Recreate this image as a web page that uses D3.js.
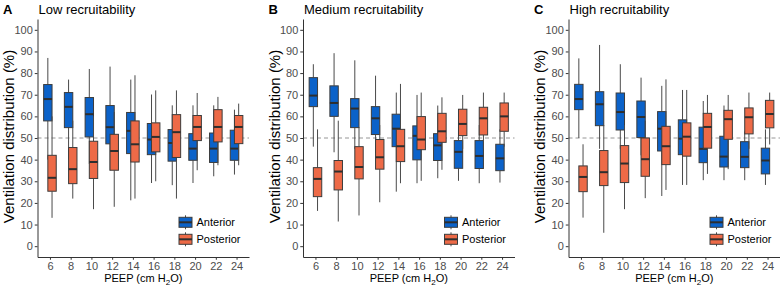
<!DOCTYPE html>
<html>
<head>
<meta charset="utf-8">
<script src="https://cdn.jsdelivr.net/npm/d3@7"></script>
<style>
  body { margin: 0; background: #fff; }
  svg { display: block; font-family: "Liberation Sans", Arial, sans-serif; }
</style>
</head>
<body>
<svg id="chart" width="780" height="288"></svg>
<script>
// PEEP levels and y ticks
const peep = [6, 8, 10, 12, 14, 16, 18, 20, 22, 24];
const yTicks = [0, 10, 20, 30, 40, 50, 60, 70, 80, 90, 100];
const seriesNames = ['Anterior', 'Posterior'];
const panelLetters = ['A', 'B', 'C'];
const panelTitles = ['Low recruitability', 'Medium recruitability', 'High recruitability'];

// each entry: [lower whisker, q1, median, q3, upper whisker]
const lowAnterior = [[40,57.9,68,74.7,87],[40,54.8,64.4,71,77],[38,50.5,61,68.7,81.9],[35,47.3,55,65,83],[21.2,42.8,53.3,61.8,77],
  [29.2,42.3,49.3,56.7,70.1],[28.2,39.3,47.7,53.9,65.1],[29.2,39.7,45.1,52,65.1],[32.3,38.7,45.1,52.3,65.1],[33.1,39.7,45.1,53.6,63.1]];
const lowPosterior = [[13.1,25.4,31.6,42,60],[22,28.9,35.6,45.6,58],[17.1,31.3,38.9,48.5,60],[18.2,35.1,44,51.7,62],[22,38.9,47.1,57.9,79],
  [30,43.6,50.5,57,72],[22,41,52.7,60.8,72],[35.1,48.8,55.1,60.4,70.8],[37.4,48.2,55.1,63.1,69],[37.4,47.4,55.1,60.4,65.9]];

const medAnterior = [[46,64.5,69.6,77.9,84.1],[43.4,60,66.2,74.1,89.2],[45,54.8,63.6,68.2,85.9],[43,51.6,59.1,64.5,78.8],[25.2,46,54.3,61,71],
  [29.1,39.9,51,55.6,69.9],[31.4,39.6,46.6,52,65],[30.2,36,43.6,48.8,55],[29.1,35.9,41.7,48.8,56],[29.4,34.9,40.6,47.1,54]];
const medPosterior = [[16.3,22.9,31.1,36.3,54],[11.4,26,34.5,39.6,58],[14.2,31.1,36.6,46,55],[20.3,35.6,41.1,49.3,56],[29.1,39.1,46.2,54,75],
  [30.2,44.6,49.3,59.9,71],[35.3,48,53.1,61.4,68.8],[45,51.1,56.5,63.3,69.9],[45,51.4,59.1,64.2,71],[46,53.1,60,66.2,71]];

const highAnterior = [[50,63.1,68,74.8,86.8],[45,55.7,65.6,71.4,93],[45,53.7,62,70.8,84.1],[42,50.2,59.7,67.1,77.9],[23.2,44,54.3,62.2,74.1],
  [28.3,42.3,49.7,58.4,72.2],[30.5,38.6,45,55,67.1],[30.5,36.6,41.4,50.8,65],[30.5,36.3,41.3,48.3,53],[28.3,33.4,39.6,45.3,54]];
const highPosterior = [[13.2,25.2,32,37.1,47.1],[6.2,28,34.2,44.2,56],[17.1,29.4,38.2,46.5,56],[22.2,32.3,40.2,50,58],[26,37.7,46.2,55.4,77.1],
  [28.3,41.6,50.6,57,72.2],[33.4,45.3,55.1,61.4,69.9],[35.6,49.4,58.7,62.8,69.9],[45,51.9,59.6,63.9,71],[47,54.7,61.1,67.4,71]];

const panelData = [
  [lowAnterior, lowPosterior],
  [medAnterior, medPosterior],
  [highAnterior, highPosterior]
];

const colors = ['#0b62c9', '#ed6a47'];
const panelLeft = [37.5, 303, 568.5];
const panelWidth = 211.5;
const plotTop = 19, plotBottom = 257;
const boxW = 8.4, dodge = 2.1;

const svg = d3.select('#chart');

const y = d3.scaleLinear().domain([-5, 105]).range([plotBottom, plotTop]);

panelData.forEach(function(series, p) {
  const left = panelLeft[p];
  const right = left + panelWidth;
  const g = svg.append('g').attr('class', 'panel');

  const x = d3.scalePoint().domain(peep).range([left, right]).padding(0.6);

  // reference line at 50 %
  g.append('line')
    .attr('x1', left).attr('x2', right)
    .attr('y1', y(50)).attr('y2', y(50))
    .attr('stroke', '#8a8a8a')
    .attr('stroke-width', 0.9)
    .attr('stroke-dasharray', '4,3');

  // boxes: per PEEP, anterior then posterior
  const rows = [];
  peep.forEach(function(pe, i) {
    series.forEach(function(s, k) {
      rows.push({peep: pe, k: k, v: s[i]});
    });
  });

  const box = g.selectAll('.box')
    .data(rows)
    .enter()
    .append('g')
    .attr('class', 'box')
    .attr('transform', d => `translate(${x(d.peep) + (d.k === 0 ? -dodge : dodge)},0)`);

  box.append('line')
    .attr('x1', 0).attr('x2', 0)
    .attr('y1', d => y(d.v[0])).attr('y2', d => y(d.v[1]))
    .attr('stroke', '#4a4a4a').attr('stroke-width', 1);
  box.append('line')
    .attr('x1', 0).attr('x2', 0)
    .attr('y1', d => y(d.v[3])).attr('y2', d => y(d.v[4]))
    .attr('stroke', '#4a4a4a').attr('stroke-width', 1);
  box.append('rect')
    .attr('x', -boxW / 2)
    .attr('width', boxW)
    .attr('y', d => y(d.v[3]))
    .attr('height', d => y(d.v[1]) - y(d.v[3]))
    .attr('fill', d => colors[d.k])
    .attr('stroke', '#3c3c3c')
    .attr('stroke-width', 1);
  box.append('line')
    .attr('x1', -boxW / 2).attr('x2', boxW / 2)
    .attr('y1', d => y(d.v[2])).attr('y2', d => y(d.v[2]))
    .attr('stroke', '#2e2e2e').attr('stroke-width', 2);

  // axes
  const axisY = d3.axisLeft(y).tickValues(yTicks).tickSize(2.75).tickSizeOuter(0).tickPadding(2);
  const axisYNode = g.append('g')
    .attr('class', 'axis axis-y')
    .attr('transform', `translate(${left},0)`)
    .call(axisY);

  const axisX = d3.axisBottom(x).tickSize(2.75).tickSizeOuter(0).tickPadding(2);
  const axisXNode = g.append('g')
    .attr('class', 'axis axis-x')
    .attr('transform', `translate(0,${plotBottom})`)
    .call(axisX);

  [axisYNode, axisXNode].forEach(function(a) {
    a.select('.domain').attr('stroke', '#333').attr('stroke-width', 1);
    a.selectAll('.tick line').attr('stroke', '#333');
    a.selectAll('.tick text')
      .attr('fill', '#4d4d4d')
      .style('font-size', '11px')
      .style('font-family', '"Liberation Sans", Arial, sans-serif');
  });

  // titles
  g.append('text')
    .attr('x', left - 34.5).attr('y', 14)
    .style('font-size', '13px').style('font-weight', 'bold')
    .text(panelLetters[p]);
  g.append('text')
    .attr('x', left + 1).attr('y', 14)
    .style('font-size', '13px')
    .text(panelTitles[p]);

  g.append('text')
    .attr('transform', `translate(${left - 23.5},136.5) rotate(-90)`)
    .attr('text-anchor', 'middle')
    .style('font-size', '15px')
    .text('Ventilation distribution (%)');

  const xt = g.append('text')
    .attr('x', (left + right) / 2).attr('y', 282)
    .attr('text-anchor', 'middle')
    .style('font-size', '11px');
  xt.append('tspan').text('PEEP (cm H');
  xt.append('tspan').attr('dy', 3).style('font-size', '8px').text('2');
  xt.append('tspan').attr('dy', -3).text('O)');

  // legend
  const leg = g.selectAll('.legend')
    .data(seriesNames)
    .enter()
    .append('g')
    .attr('class', 'legend')
    .attr('transform', (d, i) => `translate(${right - 63.5},${222.3 + i * 17})`);
  leg.append('line')
    .attr('y1', -7).attr('y2', 7)
    .attr('stroke', '#4a4a4a');
  leg.append('rect')
    .attr('x', -6.5).attr('y', -5)
    .attr('width', 13).attr('height', 10)
    .attr('fill', (d, i) => colors[i])
    .attr('stroke', '#3c3c3c');
  leg.append('line')
    .attr('x1', -6.5).attr('x2', 6.5)
    .attr('stroke', '#2e2e2e').attr('stroke-width', 2);
  leg.append('text')
    .attr('x', 11).attr('y', 4)
    .style('font-size', '11px')
    .text(d => d);
});
</script>
</body>
</html>
